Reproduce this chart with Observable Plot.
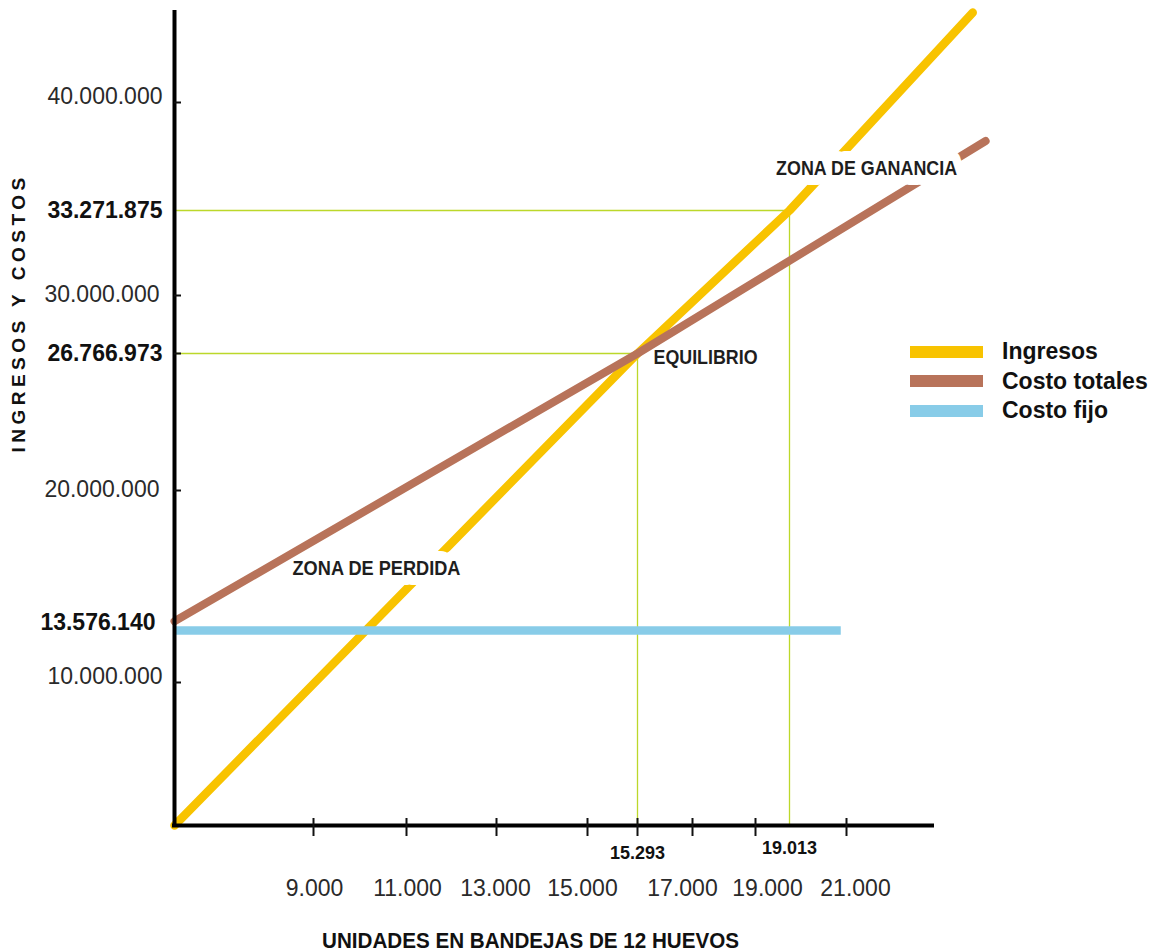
<!DOCTYPE html>
<html>
<head>
<meta charset="utf-8">
<script src="https://cdn.jsdelivr.net/npm/d3@7"></script>
<script src="https://cdn.jsdelivr.net/npm/@observablehq/plot@0.6"></script>
<style>
  body { margin: 0; background: #fff; font-family: "Liberation Sans", Arial, sans-serif; }
  #chart { position: relative; width: 1164px; height: 952px; }
  .legend { position: absolute; left: 910px; top: 337px; }
  .legend .item { display: flex; align-items: center; height: 29.5px; }
  .legend .sw { width: 73px; height: 12px; margin-right: 19px; }
  .legend .lab { font-size: 23px; font-weight: bold; color: #111; line-height: 1; }
</style>
</head>
<body>
<div id="chart"></div>
<script>
// Series names and colours
const series = ["Ingresos", "Costo totales", "Costo fijo"];
const seriesColors = ["#f8c300", "#b8735a", "#88cce8"];

// Units (bandejas de 12 huevos) and amounts along each line
const ingresosUnits = [0, 15293, 19013, 25400];
const ingresosValues = [0, 26766973, 33271875, 45600000];
const costoTotalUnits = [0, 15293, 25850];
const costoTotalValues = [14000000, 26766973, 37600000];
const costoFijoUnits = [0, 20800];
const costoFijoValues = [13576140, 13576140];

// Break-even and target points (dropped guide lines)
const guideUnits = [15293, 19013];
const guideValues = [26766973, 33271875];

// Axis ticks
const xTickValues = [9000, 11000, 13000, 15000, 17000, 19000, 21000];
const xKeyValues = [15293, 19013];
const yTickValues = [10000000, 20000000, 30000000, 40000000];
const yKeyValues = [13576140, 26766973, 33271875];

// Zone annotations
const zoneLabels = ["ZONA DE GANANCIA", "ZONA DE PERDIDA"];
const zoneUnits = [21700, 10355];
const zoneValues = [35900000, 16420000];
const equilibrioLabel = ["EQUILIBRIO"];
const equilibrioUnits = [15790];
const equilibrioValues = [26570000];

// Hand-spaced axes: piecewise scales through the drawn tick positions
const xDomain = [0, 9000, 11000, 13000, 15000, 15293, 17000, 19000, 19013, 21000];
const xRange  = [174, 313, 406, 496, 587, 637, 692, 755, 789, 846];
const yDomain = [0, 10000000, 13576140, 20000000, 26766973, 30000000, 33271875, 40000000];
const yRange  = [825, 682, 630, 490, 353, 295, 210, 102];

const fmt = d => d3.format(",")(d).replace(/,/g, ".");
const blank = () => "";
const font = "'Liberation Sans', Arial, sans-serif";
const guideColor = "#bcd82a";

const pts = (u, v) => u.map((x, i) => ({x, y: v[i]}));
const guides = pts(guideUnits, guideValues);
const zones = zoneLabels.map((t, i) => ({t, x: zoneUnits[i], y: zoneValues[i]}));

// x tick labels, each with a small horizontal nudge
const xLabel = (values, dx) => Plot.axisX(values, {
  anchor: "bottom", tickSize: 0, tickPadding: 54, tickFormat: fmt,
  fontSize: 23, fill: "#2a2a2a", dx, label: null
});

// zone annotation with a white backing that knocks out the lines behind it
const zoneText = (data, halo) => Plot.text(data, {
  x: "x", y: "y", text: "t", fontSize: 21, fontWeight: "bold", fill: "#1e1e1e",
  stroke: "#fff", strokeWidth: halo, textAnchor: "middle"
});

const chart = Plot.plot({
  width: 1164,
  height: 952,
  marginLeft: 174,
  marginRight: 232,
  marginTop: 12,
  marginBottom: 127,
  style: {fontFamily: font, background: "#fff", overflow: "visible"},
  x: {type: "linear", domain: xDomain, range: xRange, label: null},
  y: {type: "linear", domain: yDomain, range: yRange, label: null},
  marks: [
    // guide lines to the axes
    Plot.ruleY(guides, {y: "y", x1: 0, x2: "x", stroke: guideColor, strokeWidth: 1.3}),
    Plot.ruleX(guides, {x: "x", y1: 0, y2: "y", stroke: guideColor, strokeWidth: 1.3}),

    // revenue line, cut by the loss-zone label
    Plot.line(pts(ingresosUnits, ingresosValues), {x: "x", y: "y", stroke: seriesColors[0], strokeWidth: 8.5, strokeLinecap: "round"}),
    zoneText([zones[1]], 20),

    // cost lines
    Plot.line(pts(costoTotalUnits, costoTotalValues), {x: "x", y: "y", stroke: seriesColors[1], strokeWidth: 8, strokeLinecap: "round"}),
    Plot.line(pts(costoFijoUnits, costoFijoValues), {x: "x", y: "y", stroke: seriesColors[2], strokeWidth: 8.5, strokeLinecap: "butt"}),

    // profit-zone label over both upper lines
    zoneText([zones[0]], 20),
    Plot.text(equilibrioLabel.map((t, i) => ({t, x: equilibrioUnits[i], y: equilibrioValues[i]})), {
      x: "x", y: "y", text: "t", fontSize: 21, fontWeight: "bold", fill: "#1e1e1e", textAnchor: "start"
    }),

    // axis lines
    Plot.ruleX([0], {stroke: "#000", strokeWidth: 4, strokeLinecap: "square"}),
    Plot.ruleY([0], {stroke: "#000", strokeWidth: 4, strokeLinecap: "square"}),

    // x ticks crossing the axis
    Plot.axisX([9000, 11000, 13000, 15000, 15293, 17000, 19000, 21000], {anchor: "bottom", tickSize: 18, dy: -7, stroke: "#111", strokeWidth: 2, tickFormat: blank, label: null}),
    // y ticks pointing inward
    Plot.axisY([...yTickValues, 26766973], {anchor: "left", tickSize: -7, stroke: "#111", strokeWidth: 2, tickFormat: blank, label: null}),

    // x tick labels
    xLabel([9000, 11000], 1),
    xLabel([13000], -1),
    xLabel([15000], -5),
    xLabel([17000], -10),
    xLabel([19000], 12),
    xLabel([21000], 9),
    Plot.axisX([xKeyValues[0]], {anchor: "bottom", tickSize: 0, tickPadding: 21, tickFormat: fmt, fontSize: 18, fontWeight: "bold", fill: "#111", label: null}),
    Plot.axisX([xKeyValues[1]], {anchor: "bottom", tickSize: 0, tickPadding: 16, tickFormat: fmt, fontSize: 18, fontWeight: "bold", fill: "#111", label: null}),

    // y tick labels
    Plot.axisY([10000000, 40000000], {anchor: "left", tickSize: 0, tickPadding: 12, tickFormat: fmt, fontSize: 23, fill: "#2a2a2a", dy: -6, label: null}),
    Plot.axisY([20000000, 30000000], {anchor: "left", tickSize: 0, tickPadding: 15, tickFormat: fmt, fontSize: 23, fill: "#2a2a2a", dy: -1, label: null}),
    Plot.axisY([yKeyValues[0]], {anchor: "left", tickSize: 0, tickPadding: 19, tickFormat: fmt, fontSize: 23, fontWeight: "bold", fill: "#111", dy: -8, label: null}),
    Plot.axisY(yKeyValues.slice(1), {anchor: "left", tickSize: 0, tickPadding: 12, tickFormat: fmt, fontSize: 23, fontWeight: "bold", fill: "#111", label: null}),

    // axis titles
    Plot.text(["INGRESOS Y COSTOS"], {frameAnchor: "left", textAnchor: "middle", rotate: -90, dx: -156, dy: -106, fontSize: 19, fontWeight: "bold", fill: "#111", lineAnchor: "middle"}),
    Plot.text(["UNIDADES EN BANDEJAS DE 12 HUEVOS"], {frameAnchor: "bottom", textAnchor: "middle", dx: -23, dy: 115, fontSize: 22, fontWeight: "bold", fill: "#111", lineAnchor: "middle"})
  ]
});

// condensed lettering for the x title and annotations
const lengths = {
  "UNIDADES EN BANDEJAS DE 12 HUEVOS": 417,
  "ZONA DE GANANCIA": 181,
  "ZONA DE PERDIDA": 168,
  "EQUILIBRIO": 104
};
d3.select(chart).selectAll("text").each(function () {
  const len = lengths[this.textContent];
  if (len) {
    this.setAttribute("textLength", len);
    this.setAttribute("lengthAdjust", "spacingAndGlyphs");
  }
  if (this.textContent === "INGRESOS Y COSTOS") this.setAttribute("letter-spacing", "4.5");
});

const root = document.getElementById("chart");
root.appendChild(chart);

// legend
const legend = d3.select(root).append("div").attr("class", "legend");
series.forEach((name, i) => {
  const item = legend.append("div").attr("class", "item");
  item.append("div").attr("class", "sw").style("background", seriesColors[i]);
  item.append("div").attr("class", "lab").text(name);
});
</script>
</body>
</html>
